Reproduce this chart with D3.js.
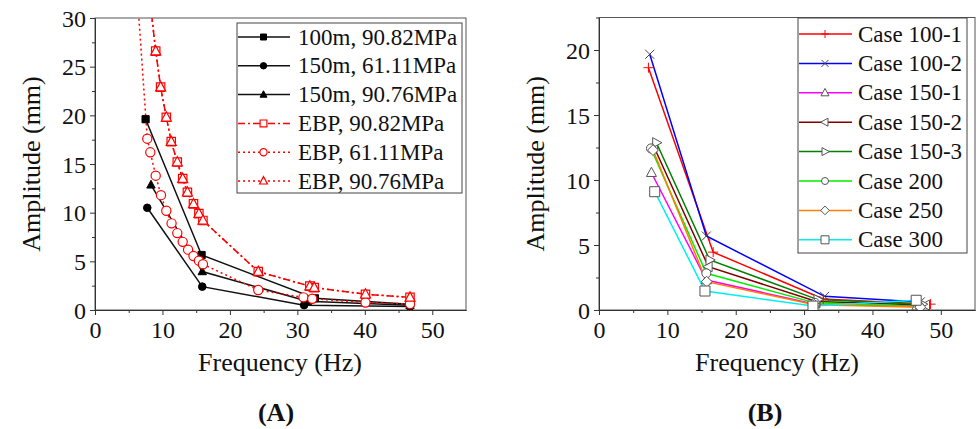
<!DOCTYPE html>
<html><head><meta charset="utf-8">
<script src="https://cdn.jsdelivr.net/npm/d3@7"></script>
<style>
html,body{margin:0;padding:0;background:#fff;}
svg text{font-family:"Liberation Serif","Times New Roman",serif;fill:#111;}
</style></head>
<body><svg id="c" width="977" height="429"></svg>
<script>
// ---------- DATA: panel A ----------
const aNames = ["100m, 90.82MPa","150m, 61.11MPa","150m, 90.76MPa","EBP, 90.82MPa","EBP, 61.11MPa","EBP, 90.76MPa"];
const aFreq100m   = [7.5, 15.8, 32.6, 46.7];
const aAmp100m    = [19.6, 5.65, 1.2, 0.6];
const aFreq150m61 = [7.75, 15.9, 31.0, 46.7];
const aAmp150m61  = [10.5, 2.4, 0.5, 0.35];
const aFreq150m90 = [8.3, 15.9, 31.5, 46.7];
const aAmp150m90  = [12.85, 3.95, 0.9, 0.48];
const aFreqEBP90  = [7.75, 8.2, 9.0, 9.73, 10.57, 11.3, 12.2, 13.0, 13.7, 14.6, 15.4, 16.0, 24.2, 31.85, 32.5, 40.1, 46.7];
const aAmpEBP9082 = [38, 31.5, 26.6, 22.9, 19.8, 17.3, 15.2, 13.5, 12.1, 10.9, 9.9, 9.2, 3.94, 2.45, 2.3, 1.62, 1.3];
const aAmpEBP9076 = [38, 31.5, 26.6, 22.9, 19.8, 17.3, 15.2, 13.5, 12.1, 10.9, 9.9, 9.2, 3.94, 2.45, 2.3, 1.62, 1.3];
const aFreqEBP61  = [6.2, 7.75, 8.2, 9.0, 9.78, 10.57, 11.35, 12.2, 13.0, 13.8, 14.6, 15.4, 16.0, 24.2, 30.9, 32.2, 40.1, 46.7];
const aAmpEBP61   = [33, 17.6, 16.2, 13.8, 11.8, 10.2, 8.9, 7.9, 7.0, 6.2, 5.55, 5.07, 4.7, 2.05, 1.3, 1.16, 0.77, 0.62];
const aXTicks = [0,10,20,30,40,50];
const aYTicks = [0,5,10,15,20,25,30];

// ---------- DATA: panel B ----------
const bNames = ["Case 100-1","Case 100-2","Case 150-1","Case 150-2","Case 150-3","Case 200","Case 250","Case 300"];
const bFreq100_1 = [7.23, 16.7, 32.8, 48.5];  const bAmp100_1 = [18.64, 4.45, 0.85, 0.45];
const bFreq100_2 = [7.42, 15.7, 33.0, 47.0];  const bAmp100_2 = [19.67, 5.69, 1.05, 0.62];
const bFreq150_1 = [7.67, 15.7, 31.6, 46.5];  const bAmp150_1 = [10.56, 2.3, 0.45, 0.3];
const bFreq150_2 = [8.0, 16.0, 31.8, 47.8];   const bAmp150_2 = [12.6, 3.33, 0.65, 0.38];
const bFreq150_3 = [8.4, 16.2, 32.0, 47.3];   const bAmp150_3 = [12.87, 3.85, 0.8, 0.45];
const bFreq200   = [7.6, 15.7, 31.6, 46.9];   const bAmp200   = [12.43, 2.82, 0.55, 0.26];
const bFreq250   = [7.9, 15.75, 31.5, 47.0];  const bAmp250   = [12.3, 2.18, 0.4, 0.22];
const bFreq300   = [8.15, 15.5, 31.3, 46.4];  const bAmp300   = [9.1, 1.46, 0.3, 0.75];
const bXTicks = [0,10,20,30,40,50];
const bYTicks = [0,5,10,15,20];

// ---------- helpers ----------
const svg = d3.select("#c");
function markerPath(type, s){
  switch(type){
    case "square": return `M${-s},${-s}H${s}V${s}H${-s}Z`;
    case "triUp": return `M0,${-s*1.1}L${s},${s*0.75}L${-s},${s*0.75}Z`;
    case "triLeft": return `M${-s*1.1},0L${s*0.75},${-s}L${s*0.75},${s}Z`;
    case "triRight": return `M${s*1.1},0L${-s*0.75},${-s}L${-s*0.75},${s}Z`;
    case "diamond": return `M0,${-s*1.2}L${s*1.2},0L0,${s*1.2}L${-s*1.2},0Z`;
    case "plus": return `M${-s},0H${s}M0,${-s}V${s}`;
    case "x": return `M${-s},${-s}L${s},${s}M${-s},${s}L${s},${-s}`;
    case "circle": return `M${s},0A${s},${s} 0 1,1 ${-s},0A${s},${s} 0 1,1 ${s},0Z`;
  }
}
function drawMarker(g, type, s, stroke, fill, sw){
  return g.append("path").attr("d", markerPath(type, s))
    .attr("stroke", stroke).attr("fill", fill).attr("stroke-width", sw||1);
}
function range(a,b,st){const r=[];for(let v=a;v<=b+1e-9;v+=st)r.push(+v.toFixed(3));return r;}

function panel(opt){
  const x = d3.scaleLinear().domain([0,55]).range([opt.x0, opt.x1]);
  const y = d3.scaleLinear().domain([0,opt.ymax]).range([opt.y1, opt.y0]);
  const g = svg.append("g");
  const clipId = "clip"+opt.id;
  svg.append("clipPath").attr("id", clipId).append("rect")
    .attr("x", opt.x0).attr("y", opt.y0).attr("width", opt.x1-opt.x0).attr("height", opt.y1-opt.y0);
  // frame
  g.append("rect").attr("x", opt.x0).attr("y", opt.y0).attr("width", opt.x1-opt.x0).attr("height", opt.y1-opt.y0)
    .attr("fill","none").attr("stroke","#555").attr("stroke-width",1);
  // axes
  const axStyle = sel => { sel.selectAll("path,line").attr("stroke","#333"); sel.selectAll("text").attr("font-size","24px").attr("fill","#111").attr("font-family","Liberation Serif"); };
  g.append("g").attr("transform",`translate(0,${opt.y1})`)
    .call(d3.axisBottom(x).tickValues(range(5,50,10)).tickSize(3).tickFormat("").tickSizeOuter(0)).call(axStyle);
  g.append("g").attr("transform",`translate(0,${opt.y1})`)
    .call(d3.axisBottom(x).tickValues(opt.xTicks).tickSize(5).tickPadding(4).tickSizeOuter(0)).call(axStyle)
    .selectAll("text").attr("dy","0.78em");
  g.append("g").attr("transform",`translate(${opt.x0},0)`)
    .call(d3.axisLeft(y).tickValues(range(2.5,opt.ymax,5)).tickSize(3).tickFormat("").tickSizeOuter(0)).call(axStyle);
  g.append("g").attr("transform",`translate(${opt.x0},0)`)
    .call(d3.axisLeft(y).tickValues(opt.yTicks).tickSize(5).tickPadding(4).tickSizeOuter(0)).call(axStyle)
    .selectAll("text").attr("dy","0.34em");
  // titles
  svg.append("text").attr("x", opt.xtX).attr("y", 371).attr("text-anchor","middle").attr("font-size","26px").text("Frequency (Hz)");
  svg.append("text").attr("transform",`translate(${opt.ytX},${(opt.y0+opt.y1)/2}) rotate(-90)`).attr("text-anchor","middle").attr("font-size","26px").text("Amplitude (mm)");
  svg.append("text").attr("x", opt.labX).attr("y", 421).attr("text-anchor","middle").attr("font-size","26px").attr("font-weight","bold").text(opt.label);
  const plot = g.append("g").attr("clip-path",`url(#${clipId})`);
  const line = d3.line().x(d=>x(d[0])).y(d=>y(d[1]));
  opt.series.forEach(s=>{
    const pts = s.f.map((f,i)=>[f, s.a[i]]);
    plot.append("path").datum(pts).attr("d", line).attr("fill","none")
      .attr("stroke", s.color).attr("stroke-width", s.lw||1.5).attr("stroke-dasharray", s.dash||null);
  });
  opt.series.forEach(s=>{
    const pts = s.f.map((f,i)=>[f, s.a[i]]);
    pts.forEach(p=>{
      drawMarker(plot.append("g").attr("transform",`translate(${x(p[0])},${y(p[1])})`), s.marker, s.ms, s.mstroke, s.mfill, s.msw);
    });
  });
  // legend
  const L = opt.legend;
  const lg = svg.append("g");
  lg.append("rect").attr("x",L.x).attr("y",L.y).attr("width",L.w).attr("height",L.h).attr("fill","#fff").attr("stroke","#444").attr("stroke-width",1);
  opt.series.forEach((s,i)=>{
    const yy = L.y + L.first + i*L.step;
    lg.append("line").attr("x1",L.x+1).attr("x2",L.x+L.lineW).attr("y1",yy).attr("y2",yy)
      .attr("stroke",s.color).attr("stroke-width",s.lw||1.5).attr("stroke-dasharray",s.dash||null);
    drawMarker(lg.append("g").attr("transform",`translate(${L.x+L.lineW/2+L.mOff},${yy})`), s.marker, s.lms, s.mstroke, s.mfill, s.msw);
    lg.append("text").attr("x",L.x+L.textX).attr("y",yy).attr("dy","0.33em").attr("font-size",L.fs).text(s.name);
  });
}

// Panel A
panel({
  id:"A", x0:95, x1:466, y0:18, y1:310, ymax:30, xTicks:aXTicks, yTicks:aYTicks,
  xtX:280, ytX:40, labX:276, label:"(A)",
  legend:{x:237, y:23, w:225, h:170, first:14, step:28.8, lineW:53, mOff:0, textX:61, fs:"23px"},
  series:[
    {name:aNames[0], f:aFreq100m, a:aAmp100m, color:"#111", marker:"square", ms:3.6, lms:3, mstroke:"#000", mfill:"#000"},
    {name:aNames[1], f:aFreq150m61, a:aAmp150m61, color:"#111", marker:"circle", ms:3.8, lms:3.2, mstroke:"#000", mfill:"#000"},
    {name:aNames[2], f:aFreq150m90, a:aAmp150m90, color:"#111", marker:"triUp", ms:4.2, lms:3.5, mstroke:"#000", mfill:"#000"},
    {name:aNames[3], f:aFreqEBP90, a:aAmpEBP9082, color:"#f00", dash:"7,3,2,3", marker:"square", ms:4.2, lms:3.4, mstroke:"#f00", mfill:"#fff", msw:1.2},
    {name:aNames[4], f:aFreqEBP61, a:aAmpEBP61, color:"#f00", dash:"2,3", marker:"circle", ms:4.6, lms:3.6, mstroke:"#f00", mfill:"#fff", msw:1.2},
    {name:aNames[5], f:aFreqEBP90, a:aAmpEBP9076, color:"#f00", dash:"2,3", marker:"triUp", ms:5, lms:4, mstroke:"#f00", mfill:"#fff", msw:1.2}
  ]
});

// Panel B
panel({
  id:"B", x0:599, x1:975, y0:17.5, y1:310, ymax:22.5, xTicks:bXTicks, yTicks:bYTicks,
  xtX:777, ytX:544, labX:765, label:"(B)",
  legend:{x:798, y:18, w:169, h:235, first:16, step:29.4, lineW:54, mOff:0, textX:60, fs:"23px"},
  series:[
    {name:bNames[0], f:bFreq100_1, a:bAmp100_1, color:"#ff0000", marker:"plus", ms:5, lms:4, mstroke:"#ff0000", mfill:"none"},
    {name:bNames[1], f:bFreq100_2, a:bAmp100_2, color:"#0000ff", marker:"x", ms:4.5, lms:3.5, mstroke:"#444", mfill:"none"},
    {name:bNames[2], f:bFreq150_1, a:bAmp150_1, color:"#ff00ff", marker:"triUp", ms:5, lms:4, mstroke:"#555", mfill:"#fff"},
    {name:bNames[3], f:bFreq150_2, a:bAmp150_2, color:"#800000", marker:"triLeft", ms:5, lms:4, mstroke:"#555", mfill:"#fff"},
    {name:bNames[4], f:bFreq150_3, a:bAmp150_3, color:"#008000", marker:"triRight", ms:5, lms:4, mstroke:"#555", mfill:"#fff"},
    {name:bNames[5], f:bFreq200, a:bAmp200, color:"#00ee00", marker:"circle", ms:4.5, lms:3.5, mstroke:"#555", mfill:"#fff"},
    {name:bNames[6], f:bFreq250, a:bAmp250, color:"#ff8000", marker:"diamond", ms:4.5, lms:3.6, mstroke:"#555", mfill:"#fff"},
    {name:bNames[7], f:bFreq300, a:bAmp300, color:"#00f0f0", marker:"square", ms:5, lms:4, mstroke:"#555", mfill:"#fff"}
  ]
});
</script></body></html>
